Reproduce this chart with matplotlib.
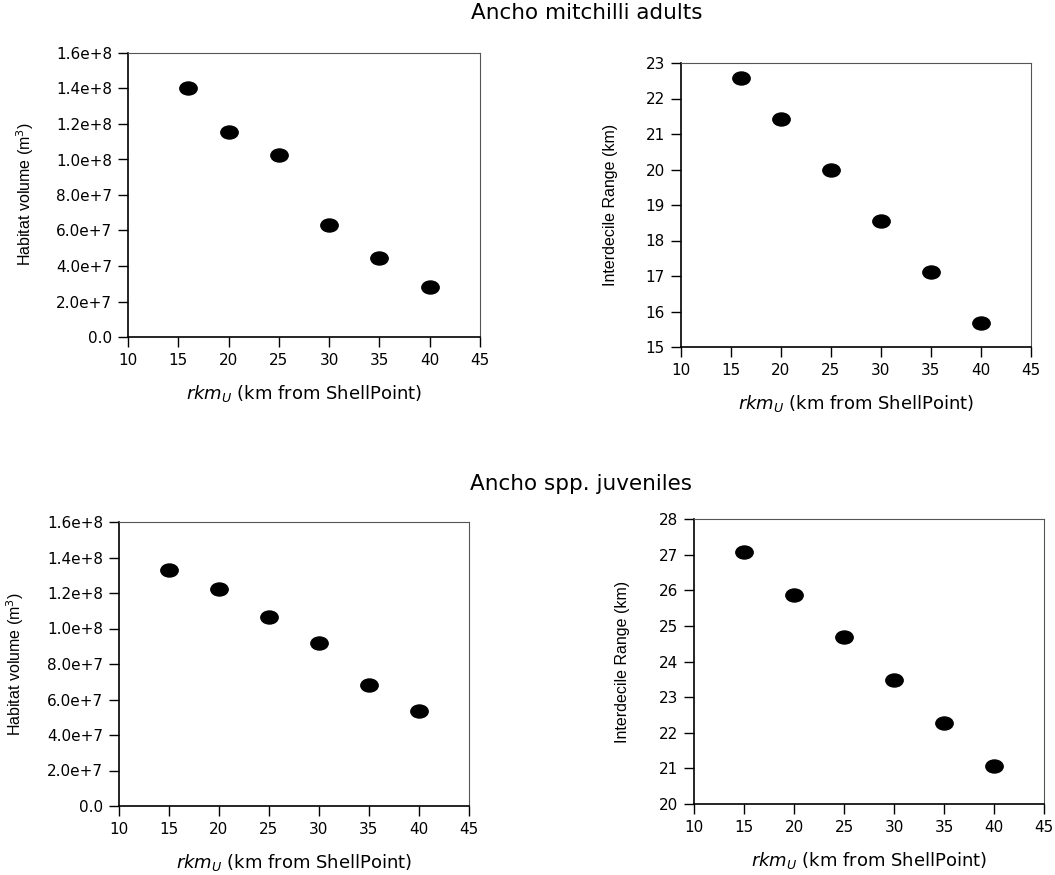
import matplotlib
matplotlib.use("Agg")
from matplotlib import pyplot as plt
from matplotlib.path import Path
from matplotlib.ticker import FuncFormatter
import numpy as np

plt.rcParams["font.family"] = ["DejaVu Sans"]
plt.rcParams["mathtext.fontset"] = "dejavusans"

# donnees
rkm_adults = [16, 20, 25, 30, 35, 40]
vol_adults = [1.40e8, 1.153e8, 1.023e8, 0.629e8, 0.447e8, 0.282e8]
idr_adults = [22.57, 21.41, 19.99, 18.55, 17.11, 15.68]

rkm_juv = [15, 20, 25, 30, 35, 40]
vol_juv = [1.332e8, 1.223e8, 1.067e8, 0.917e8, 0.679e8, 0.538e8]
idr_juv = [27.08, 25.87, 24.68, 23.47, 22.27, 21.06]

W, H = 1055, 875

# marqueur elliptique
circ = Path.unit_circle()
ellipse = Path(circ.vertices * np.array([1.0, 0.75]), circ.codes)

YLAB_FONT = ["Liberation Sans", "DejaVu Sans"]


def sci_fmt(v, pos):
    if v == 0:
        return "0.0"
    e = int(np.floor(np.log10(abs(v)) + 1e-9))
    return "%.1fe+%d" % (v / 10 ** e, e)


def make_axes(fig, box):
    x0, y0, x1, y1 = box
    return fig.add_axes([x0 / W, 1 - y1 / H, (x1 - x0) / W, (y1 - y0) / H])


def panel(fig, ax, x, y, ylim, yticks, ylabel, ylab_pos, sci=False):
    ax.plot(x, y, linestyle="None", marker=ellipse, markersize=12.5,
            color="black")
    ax.set_xlim(10, 45)
    ax.set_xticks([10, 15, 20, 25, 30, 35, 40, 45])
    ax.set_ylim(*ylim)
    ax.set_yticks(yticks)
    if sci:
        ax.yaxis.set_major_formatter(FuncFormatter(sci_fmt))
    ax.tick_params(direction="out", length=7.5, width=1, labelsize=11,
                   top=False, right=False, pad=4)
    for s in ["left", "bottom"]:
        ax.spines[s].set_linewidth(1.2)
    for s in ["top", "right"]:
        ax.spines[s].set_linewidth(0.8)
        ax.spines[s].set_color("#555555")
    ax.set_xlabel(r"$\mathit{rkm}_{\mathit{U}}$ (km from ShellPoint)",
                  fontsize=13, labelpad=11)
    fig.text(ylab_pos[0] / W, 1 - ylab_pos[1] / H, ylabel, rotation=90,
             ha="center", va="center", fontsize=11.5, family=YLAB_FONT)


def main():
    fig = plt.figure(figsize=(W / 100, H / 100), dpi=100)

    ax1 = make_axes(fig, (128, 53, 480, 337))
    panel(fig, ax1, rkm_adults, vol_adults, (0, 1.6e8),
          np.arange(0, 1.61e8, 2e7), r"Habitat volume (m$^3$)", (25, 194),
          sci=True)

    ax2 = make_axes(fig, (681, 63, 1031, 347))
    panel(fig, ax2, rkm_adults, idr_adults, (15, 23), range(15, 24),
          "Interdecile Range (km)", (610, 205))

    ax3 = make_axes(fig, (119, 522, 469, 806))
    panel(fig, ax3, rkm_juv, vol_juv, (0, 1.6e8),
          np.arange(0, 1.61e8, 2e7), r"Habitat volume (m$^3$)", (15, 664),
          sci=True)

    ax4 = make_axes(fig, (694, 519, 1044, 804))
    panel(fig, ax4, rkm_juv, idr_juv, (20, 28), range(20, 29),
          "Interdecile Range (km)", (623, 662))

    fig.text(587 / W, 1 - 13 / H, "Ancho mitchilli adults", fontsize=15.5,
             ha="center", va="center")
    fig.text(581 / W, 1 - 484 / H, "Ancho spp. juveniles", fontsize=15.5,
             ha="center", va="center")

    fig.savefig("out.png", dpi=100)
    plt.close()


main()
